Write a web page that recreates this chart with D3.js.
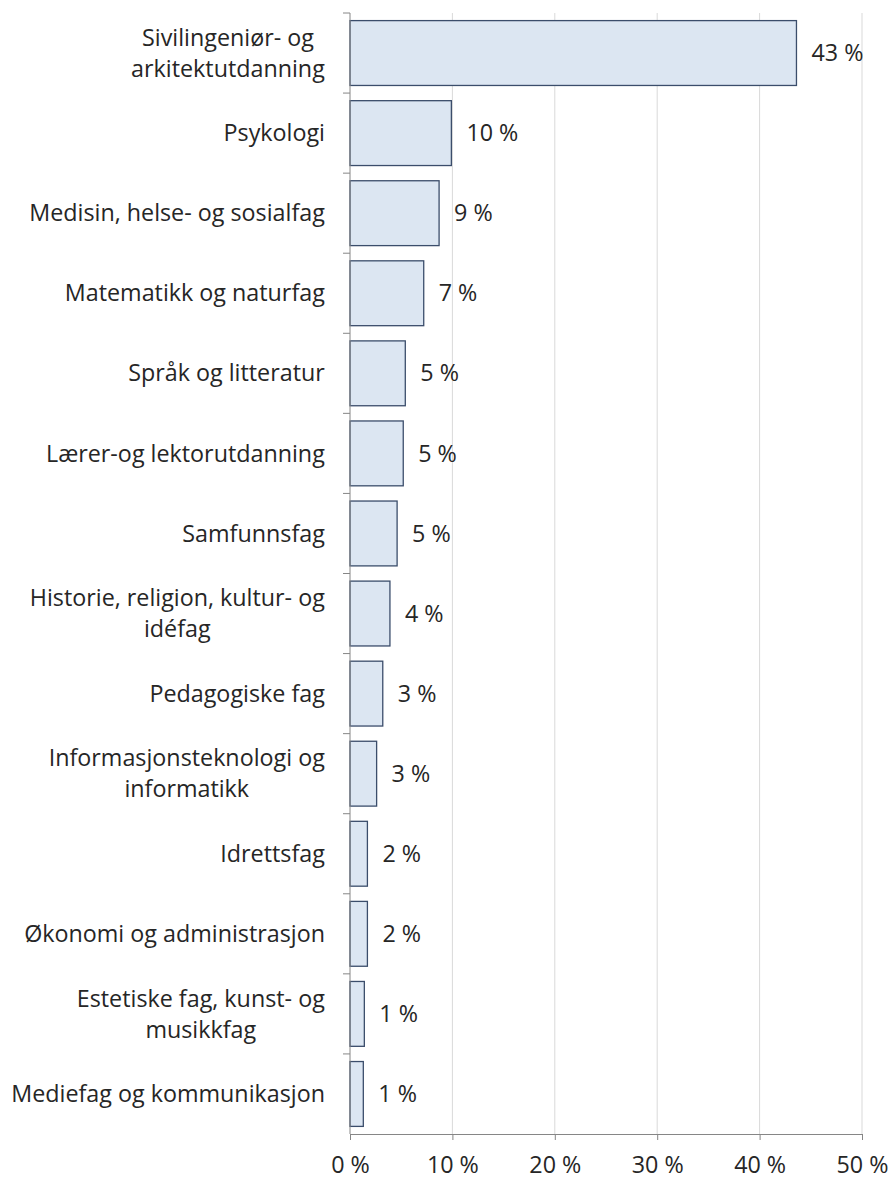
<!DOCTYPE html>
<html lang="no">
<head>
<meta charset="utf-8">
<title>Utdanning</title>
<script src="https://cdn.jsdelivr.net/npm/d3@7"></script>
<style>
  body { margin: 0; background: #fff; }
  text { font-family: "Open Sans", sans-serif; fill: #262626; }
</style>
</head>
<body>
<script>
// categories (top to bottom), "\n" marks a line break
var categories = [
  "Sivilingeniør- og\narkitektutdanning",
  "Psykologi",
  "Medisin, helse- og sosialfag",
  "Matematikk og naturfag",
  "Språk og litteratur",
  "Lærer-og lektorutdanning",
  "Samfunnsfag",
  "Historie, religion, kultur- og\nidéfag",
  "Pedagogiske fag",
  "Informasjonsteknologi og\ninformatikk",
  "Idrettsfag",
  "Økonomi og administrasjon",
  "Estetiske fag, kunst- og\nmusikkfag",
  "Mediefag og kommunikasjon"
];
var values = [43.6, 9.9, 8.7, 7.2, 5.4, 5.2, 4.6, 3.9, 3.2, 2.6, 1.7, 1.7, 1.4, 1.3];
var valueLabels = ["43 %", "10 %", "9 %", "7 %", "5 %", "5 %", "5 %", "4 %", "3 %", "3 %", "2 %", "2 %", "1 %", "1 %"];
var xTicks = [0, 10, 20, 30, 40, 50];

var w = 893, h = 1180;
var margin = {top: 13, right: 31, bottom: 46, left: 350};
var fontSize = "23.3px";

var svg = d3.select("body").append("svg")
  .attr("width", w)
  .attr("height", h);

var x = d3.scaleLinear()
  .domain([0, 50])
  .range([margin.left, w - margin.right]);

var y = d3.scaleBand()
  .domain(d3.range(categories.length))
  .range([margin.top, h - margin.bottom])
  .paddingInner(0.19)
  .paddingOuter(0.095);

var plotBottom = h - margin.bottom;

// vertical gridlines
svg.append("g")
  .selectAll("line")
  .data(xTicks.slice(1))
  .enter()
  .append("line")
  .attr("x1", d => x(d)).attr("x2", d => x(d))
  .attr("y1", margin.top).attr("y2", plotBottom)
  .attr("stroke", "#d9d9d9")
  .attr("stroke-width", 1);

// bars
svg.append("g")
  .selectAll("rect")
  .data(values)
  .enter()
  .append("rect")
  .attr("x", x(0))
  .attr("y", (d, i) => y(i))
  .attr("width", d => x(d) - x(0))
  .attr("height", y.bandwidth())
  .attr("fill", "#dce6f2")
  .attr("stroke", "#3b4d6b")
  .attr("stroke-width", 1.3);

// value labels
svg.append("g")
  .selectAll("text")
  .data(values)
  .enter()
  .append("text")
  .attr("x", d => x(d) + 15)
  .attr("y", (d, i) => y(i) + y.bandwidth() / 2)
  .attr("dy", "0.35em")
  .style("font-size", fontSize)
  .text((d, i) => valueLabels[i]);

// x axis
var xAxis = d3.axisBottom(x)
  .tickValues(xTicks)
  .tickSize(6)
  .tickFormat(d => d + " %");

var gx = svg.append("g")
  .attr("transform", "translate(0," + plotBottom + ")")
  .call(xAxis);
gx.select(".domain").attr("stroke", "#868686");
gx.selectAll(".tick line").attr("stroke", "#868686");
gx.selectAll(".tick text")
  .attr("y", 39)
  .attr("dy", 0)
  .style("font-size", fontSize)
  .style("font-family", "'Open Sans', sans-serif")
  .attr("fill", "#262626");

// y axis (category band boundaries as ticks)
var yAxisG = svg.append("g");
yAxisG.append("line")
  .attr("x1", x(0)).attr("x2", x(0))
  .attr("y1", margin.top).attr("y2", plotBottom)
  .attr("stroke", "#868686");
var step = y.step();
var bounds = d3.range(categories.length).map(i => y(i) - step * y.paddingInner() / 2);
yAxisG.selectAll("line.tk")
  .data(bounds)
  .enter()
  .append("line")
  .attr("class", "tk")
  .attr("x1", x(0) - 7).attr("x2", x(0))
  .attr("y1", d => d).attr("y2", d => d)
  .attr("stroke", "#868686");

// category labels
var lab = svg.append("g")
  .selectAll("text")
  .data(categories)
  .enter()
  .append("text")
  .attr("text-anchor", "middle")
  .style("font-size", fontSize);

lab.each(function(d, i) {
  var lines = d.split("\n");
  var t = d3.select(this);
  var cy = y(i) + y.bandwidth() / 2;
  var lh = 31;
  lines.forEach(function(line, j) {
    t.append("tspan")
      .attr("x", 0)
      .attr("y", cy + (j - (lines.length - 1) / 2) * lh)
      .attr("dy", "0.35em")
      .text(line);
  });
});
// center multi-line labels on their widest line, right-aligned to the axis
lab.each(function() {
  var bb = this.getBBox();
  var cx = x(0) - 25 - bb.width / 2;
  d3.select(this).selectAll("tspan").attr("x", cx);
});
</script>
</body>
</html>
